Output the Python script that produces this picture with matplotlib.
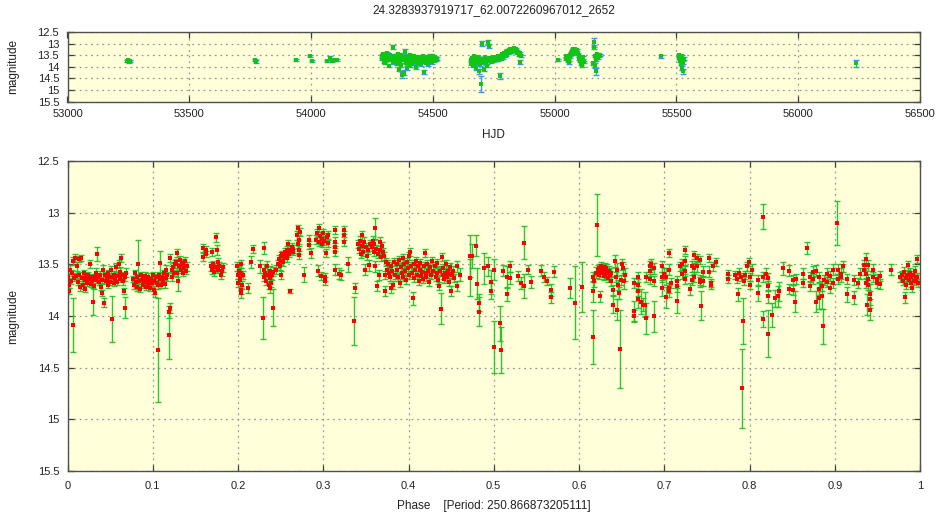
import matplotlib
matplotlib.use("Agg")
import matplotlib.pyplot as plt
from matplotlib.ticker import FuncFormatter

plt.rcParams['font.family'] = ['Liberation Sans', 'DejaVu Sans']

TITLE = "24.3283937919717_62.0072260967012_2652"
PERIOD = "250.866873205111"

# ---- light curve versus time (HJD) ----
hjd = [
    53246, 53248, 53252, 53255, 53770, 53772, 53940, 53997, 54004,
    54066, 54078, 54084, 54095, 54107,
    54290, 54293, 54296, 54298, 54300, 54303, 54305, 54308, 54310, 54313,
    54316, 54318, 54320, 54323, 54326, 54329, 54332, 54335, 54338, 54340,
    54343, 54346, 54349, 54352, 54355, 54358, 54360, 54362, 54365, 54368,
    54370, 54373, 54375, 54377, 54380, 54382, 54385, 54388, 54390, 54393,
    54395, 54398, 54400, 54403, 54406, 54408, 54411, 54414, 54416, 54419,
    54422, 54425, 54428, 54430, 54433, 54436, 54439, 54442, 54445, 54448,
    54450, 54453, 54456, 54459, 54462, 54464, 54467, 54470, 54473, 54476,
    54479, 54482, 54485, 54488, 54491, 54494, 54497, 54500, 54503, 54506,
    54509, 54512, 54515,
    54655, 54658, 54661, 54664, 54667, 54670, 54673, 54676, 54679, 54682,
    54685, 54688, 54691, 54694, 54697, 54700, 54703, 54706, 54709, 54712,
    54715, 54718, 54721, 54724, 54727, 54730, 54733, 54736, 54739, 54742,
    54745, 54748, 54751, 54754, 54757, 54760, 54763, 54766, 54769, 54772,
    54775, 54778, 54781, 54784, 54787, 54790, 54793, 54796, 54799, 54802,
    54805, 54808, 54811, 54814, 54817, 54820, 54823, 54826, 54829, 54832,
    54835, 54838, 54841, 54844, 54847, 54850, 54853, 54856, 54858, 54860,
    55013,
    55045, 55048, 55050, 55053, 55056, 55059, 55062, 55065, 55068, 55071,
    55074, 55077, 55080, 55083, 55086, 55089, 55092, 55095, 55098, 55101,
    55104, 55107, 55110, 55113, 55116, 55119,
    55158, 55160, 55162, 55164, 55166, 55168, 55170, 55173, 55176, 55179,
    55182, 55185,
    55436,
    55510, 55512, 55514, 55516, 55518, 55520, 55522, 55524, 55526, 55528,
    55530,
    56236,
]
hjd_mag = [
    13.75, 13.72, 13.78, 13.74, 13.72, 13.78, 13.70, 13.52, 13.75,
    13.75, 13.62, 13.76, 13.72, 13.70,
    13.55, 13.68, 13.45, 13.78, 13.62, 13.50, 13.85, 13.60, 13.72, 13.40,
    13.66, 13.55, 13.95, 13.62, 13.48, 13.70, 13.58, 13.80, 13.15, 13.65,
    13.52, 13.75, 13.60, 13.88, 13.45, 13.70, 14.10, 13.62, 13.78, 13.50,
    13.92, 13.66, 14.35, 13.58, 14.25, 13.72, 13.35, 13.82, 13.60, 14.05,
    13.70, 13.55, 13.85, 13.65, 13.95, 13.48, 13.75, 13.62, 13.88, 13.70,
    13.55, 13.80, 13.66, 14.00, 13.60, 13.72, 13.85, 13.58, 13.68, 13.78,
    13.62, 13.90, 13.70, 13.55, 14.22, 13.75, 13.62, 13.82, 13.68, 13.58,
    13.90, 13.66, 13.74, 13.52, 13.70, 13.62, 13.80, 13.55, 13.68, 13.75,
    13.60, 13.72, 13.65,
    13.70, 13.85, 13.62, 13.95, 13.75, 13.55, 13.88, 14.05, 13.68, 13.80,
    13.60, 14.20, 13.72, 13.90, 14.73, 13.65, 13.00, 13.80, 14.10, 13.70,
    13.58, 13.85, 13.65, 13.95, 12.95, 13.10, 13.72, 13.62, 13.78, 13.68,
    13.58, 13.75, 13.65, 13.70, 13.60, 13.72, 13.66, 13.55, 13.70, 13.62,
    14.40, 13.68, 13.58, 13.45, 13.60, 13.50, 13.40, 13.55, 13.35, 13.48,
    13.30, 13.42, 13.28, 13.38, 13.25, 13.35, 13.22, 13.32, 13.25, 13.30,
    13.20, 13.28, 13.25, 13.32, 13.40, 13.35, 13.48, 13.42, 13.80, 13.55,
    13.70,
    13.55, 13.68, 13.60, 13.75, 13.62, 13.80, 13.48, 13.58, 13.40, 13.32,
    13.45, 13.25, 13.35, 13.22, 13.30, 13.38, 13.28, 13.45, 13.55, 13.65,
    13.75, 13.85, 13.70, 13.92, 13.60, 13.80,
    13.85, 12.95, 13.15, 13.55, 13.95, 14.20, 13.70, 13.45, 13.62, 13.50,
    13.55, 13.48,
    13.55,
    13.50, 13.62, 13.75, 13.58, 13.85, 13.68, 14.05, 13.55, 13.80, 14.20,
    13.65,
    13.85,
]
hjd_err = [
    0.04, 0.04, 0.04, 0.04, 0.04, 0.05, 0.04, 0.04, 0.04,
    0.05, 0.08, 0.04, 0.04, 0.04,
    0.05, 0.05, 0.04, 0.05, 0.04, 0.05, 0.05, 0.04, 0.05, 0.05,
    0.04, 0.05, 0.08, 0.05, 0.05, 0.04, 0.05, 0.06, 0.08, 0.05,
    0.05, 0.05, 0.04, 0.06, 0.05, 0.05, 0.10, 0.05, 0.05, 0.05,
    0.08, 0.05, 0.12, 0.05, 0.10, 0.05, 0.10, 0.06, 0.05, 0.10,
    0.05, 0.05, 0.06, 0.05, 0.08, 0.05, 0.05, 0.05, 0.06, 0.05,
    0.05, 0.06, 0.05, 0.08, 0.05, 0.05, 0.06, 0.05, 0.05, 0.05,
    0.05, 0.07, 0.05, 0.05, 0.10, 0.05, 0.05, 0.06, 0.05, 0.05,
    0.08, 0.05, 0.05, 0.05, 0.05, 0.05, 0.06, 0.05, 0.05, 0.05,
    0.05, 0.05, 0.05,
    0.05, 0.06, 0.05, 0.07, 0.05, 0.05, 0.06, 0.10, 0.05, 0.06,
    0.05, 0.12, 0.05, 0.07, 0.35, 0.05, 0.12, 0.06, 0.10, 0.05,
    0.05, 0.06, 0.05, 0.08, 0.10, 0.08, 0.05, 0.05, 0.05, 0.05,
    0.05, 0.05, 0.05, 0.05, 0.05, 0.05, 0.05, 0.05, 0.05, 0.05,
    0.15, 0.05, 0.05, 0.05, 0.05, 0.05, 0.05, 0.05, 0.05, 0.05,
    0.05, 0.05, 0.05, 0.05, 0.05, 0.05, 0.05, 0.05, 0.05, 0.05,
    0.05, 0.05, 0.05, 0.05, 0.05, 0.05, 0.05, 0.05, 0.08, 0.05,
    0.05,
    0.05, 0.05, 0.05, 0.05, 0.05, 0.06, 0.05, 0.05, 0.05, 0.05,
    0.05, 0.05, 0.05, 0.05, 0.05, 0.05, 0.05, 0.05, 0.05, 0.05,
    0.05, 0.06, 0.05, 0.07, 0.05, 0.05,
    0.06, 0.20, 0.10, 0.05, 0.10, 0.15, 0.05, 0.05, 0.05, 0.05,
    0.05, 0.05,
    0.06,
    0.05, 0.05, 0.06, 0.05, 0.06, 0.05, 0.10, 0.05, 0.06, 0.10,
    0.05,
    0.15,
]

# ---- phase-folded light curve ----
phase = [
    0.001, 0.002, 0.002, 0.003, 0.004, 0.005, 0.006, 0.007, 0.008, 0.009,
    0.010, 0.011, 0.012, 0.013, 0.014, 0.015, 0.016, 0.017, 0.018, 0.019,
    0.020, 0.021, 0.022, 0.023, 0.024, 0.025, 0.026, 0.027, 0.028, 0.029,
    0.030, 0.031, 0.032, 0.033, 0.034, 0.035, 0.036, 0.037, 0.038, 0.039,
    0.040, 0.041, 0.042, 0.043, 0.044, 0.045, 0.046, 0.047, 0.048, 0.049,
    0.050, 0.051, 0.052, 0.053, 0.054, 0.055, 0.056, 0.057, 0.058, 0.059,
    0.060, 0.061, 0.062, 0.063, 0.064, 0.065, 0.066, 0.067, 0.068, 0.069,
    0.077, 0.078, 0.079, 0.080, 0.081, 0.082, 0.083, 0.084, 0.085, 0.086,
    0.087, 0.088, 0.089, 0.090, 0.091, 0.092, 0.093, 0.094, 0.095, 0.096,
    0.097, 0.098, 0.099, 0.100, 0.101, 0.102, 0.103, 0.104, 0.105, 0.106,
    0.106, 0.107, 0.108, 0.109, 0.110, 0.111, 0.112, 0.113, 0.114, 0.115,
    0.116, 0.117, 0.119, 0.119, 0.120,
    0.120, 0.122, 0.123, 0.124, 0.125, 0.126, 0.127, 0.128, 0.129, 0.130,
    0.131, 0.132, 0.133, 0.134, 0.135, 0.136, 0.137, 0.138, 0.139, 0.140,
    0.159, 0.159, 0.162, 0.163, 0.168, 0.169, 0.170, 0.171, 0.172, 0.173,
    0.174, 0.175, 0.176, 0.177, 0.178, 0.180, 0.181, 0.182,
    0.199, 0.200, 0.200, 0.201, 0.202, 0.202, 0.203, 0.203, 0.204, 0.205,
    0.203, 0.206, 0.212, 0.215, 0.218, 0.226,
    0.229, 0.230, 0.231, 0.231, 0.232, 0.233, 0.234, 0.235, 0.236, 0.237,
    0.238, 0.238, 0.239, 0.240, 0.241, 0.241,
    0.245, 0.247, 0.248, 0.249, 0.250, 0.250, 0.251, 0.252, 0.253, 0.254,
    0.255, 0.256, 0.257, 0.258, 0.259, 0.260, 0.261, 0.262, 0.263, 0.264,
    0.265,
    0.269, 0.270, 0.270, 0.271, 0.272, 0.272, 0.273, 0.277, 0.283, 0.283,
    0.286,
    0.292, 0.293, 0.294, 0.295, 0.295, 0.296, 0.297, 0.298, 0.299, 0.300,
    0.301, 0.302, 0.302, 0.303, 0.304, 0.305, 0.306, 0.314, 0.314, 0.314,
    0.314, 0.314, 0.318, 0.321, 0.324, 0.324, 0.324, 0.329,
    0.336, 0.337, 0.341, 0.342, 0.343, 0.344, 0.345, 0.346, 0.347, 0.348,
    0.349, 0.350, 0.351, 0.353, 0.354, 0.355, 0.357, 0.358, 0.359, 0.360,
    0.361, 0.361, 0.362, 0.363, 0.364, 0.365, 0.366, 0.367, 0.368, 0.369,
    0.370, 0.371,
    0.372, 0.372, 0.374, 0.375, 0.376, 0.377, 0.378, 0.379, 0.380, 0.381,
    0.382, 0.383, 0.384, 0.386, 0.387, 0.388, 0.389, 0.390, 0.391, 0.392,
    0.393, 0.394, 0.395, 0.396, 0.397, 0.398, 0.399, 0.400, 0.401, 0.402,
    0.403, 0.404, 0.405, 0.406, 0.407, 0.408, 0.409, 0.410, 0.411, 0.412,
    0.413, 0.414, 0.415, 0.416, 0.417, 0.418, 0.419, 0.420, 0.421, 0.422,
    0.423, 0.424, 0.425, 0.426, 0.428, 0.429, 0.431, 0.432, 0.433, 0.434,
    0.435, 0.436, 0.437, 0.438, 0.439, 0.440, 0.441, 0.442, 0.443, 0.444,
    0.445, 0.446, 0.447, 0.448, 0.449, 0.450, 0.451, 0.452, 0.453, 0.457,
    0.457, 0.460,
    0.472, 0.472, 0.474, 0.479, 0.480, 0.483, 0.483, 0.489, 0.493, 0.497,
    0.497, 0.500, 0.500, 0.507, 0.508, 0.511, 0.515, 0.515, 0.519, 0.519,
    0.528, 0.532, 0.536, 0.536, 0.540, 0.544, 0.555, 0.559, 0.562, 0.567,
    0.567, 0.571, 0.589, 0.595, 0.603,
    0.616, 0.616, 0.617, 0.618, 0.620, 0.621, 0.622, 0.623, 0.624, 0.625,
    0.625, 0.626, 0.627, 0.628, 0.629, 0.630, 0.630, 0.631, 0.632, 0.633,
    0.634, 0.635, 0.636, 0.637, 0.638, 0.640, 0.640, 0.642, 0.643, 0.644,
    0.645, 0.646, 0.647, 0.648, 0.649, 0.650, 0.652, 0.653, 0.654,
    0.665, 0.665, 0.665, 0.669, 0.669, 0.669, 0.669, 0.673, 0.675, 0.677,
    0.679, 0.679, 0.683, 0.683, 0.683, 0.685, 0.688, 0.688, 0.688, 0.697,
    0.697, 0.697, 0.700, 0.702, 0.702, 0.705, 0.705, 0.705, 0.705, 0.708,
    0.715, 0.715, 0.715, 0.718, 0.721, 0.721, 0.724, 0.724, 0.724, 0.724,
    0.730, 0.733, 0.733, 0.735, 0.735, 0.735, 0.739, 0.739, 0.742, 0.742,
    0.742, 0.743, 0.746, 0.746, 0.752, 0.752, 0.755, 0.755, 0.757, 0.761,
    0.775, 0.775, 0.783, 0.785, 0.787, 0.788, 0.790, 0.791, 0.792, 0.793,
    0.795, 0.797, 0.799, 0.800, 0.801, 0.803, 0.810, 0.810, 0.816, 0.816,
    0.816, 0.819, 0.822, 0.822, 0.822, 0.822, 0.826, 0.830, 0.833, 0.835,
    0.839,
    0.846, 0.846, 0.851, 0.851, 0.853, 0.855, 0.863, 0.863, 0.867, 0.871,
    0.871, 0.875, 0.875, 0.878, 0.878, 0.882, 0.882, 0.882, 0.885, 0.885,
    0.886, 0.887, 0.891, 0.891, 0.894, 0.894, 0.898, 0.898, 0.903, 0.904,
    0.904, 0.907, 0.907, 0.910, 0.914, 0.914, 0.922, 0.922, 0.927, 0.930,
    0.934, 0.934, 0.937, 0.937, 0.937, 0.938, 0.939, 0.939, 0.939, 0.941,
    0.941, 0.941, 0.945, 0.945, 0.949, 0.949, 0.953, 0.953, 0.966, 0.976,
    0.979, 0.980, 0.981, 0.982, 0.983, 0.984, 0.985, 0.986, 0.987, 0.988,
    0.989, 0.990, 0.991, 0.992, 0.993, 0.994, 0.995, 0.996, 0.997, 0.998,
]
phase_mag = [
    13.62, 13.70, 13.76, 13.55, 13.66, 13.58, 13.47, 14.09, 13.63, 13.44,
    13.61, 13.52, 13.67, 13.45, 13.60, 13.72, 13.44, 13.63, 13.70, 13.58,
    13.65, 13.74, 13.62, 13.68, 13.60, 13.64, 13.50, 13.69, 13.62, 13.66,
    13.86, 13.71, 13.62, 13.58, 13.65, 13.40, 13.62, 13.67, 13.60, 13.72,
    13.65, 13.78, 13.55, 13.87, 13.60, 13.66, 13.63, 13.70, 13.58, 13.62,
    13.67, 13.55, 14.03, 13.62, 13.68, 13.60, 13.64, 13.53, 13.67, 13.61,
    13.50, 13.57, 13.64, 13.44, 13.60, 13.66, 13.76, 13.62, 13.92, 13.58,
    13.64, 13.70, 13.58, 13.67, 13.72, 13.62, 13.50, 13.66, 13.74, 13.60,
    13.65, 13.70, 13.63, 13.67, 13.61, 13.72, 13.65, 13.69, 13.62, 13.66,
    13.73, 13.64, 13.68, 13.60, 13.75, 13.66, 13.78, 13.62, 13.68, 14.33,
    13.70, 13.60, 13.49, 13.64, 13.70, 13.62, 13.66, 13.58, 13.69, 13.63,
    13.55, 13.60, 14.18, 13.96, 13.92,
    13.44, 13.62, 13.55, 13.53, 13.58, 13.50, 13.48, 13.39, 13.58, 13.66,
    13.52, 13.46, 13.55, 13.49, 13.58, 13.51, 13.54, 13.47, 13.56, 13.52,
    13.34, 13.43, 13.36, 13.40, 13.52, 13.38, 13.55, 13.50, 13.57, 13.53,
    13.24, 13.36, 13.48, 13.55, 13.52, 13.60, 13.56, 13.53,
    13.52, 13.60, 13.68, 13.56, 13.65, 13.63, 13.50, 13.75, 13.58, 13.70,
    13.78, 13.60, 13.73, 13.48, 13.35, 13.52,
    14.02, 13.55, 13.34, 13.62, 13.58, 13.66, 13.52, 13.60, 13.70, 13.56,
    13.73, 13.63, 13.68, 13.60, 13.92, 13.57,
    13.55, 13.50, 13.45, 13.52, 13.60, 13.42, 13.47, 13.40, 13.48, 13.44,
    13.38, 13.42, 13.36, 13.44, 13.30, 13.40, 13.76, 13.36, 13.33, 13.38,
    13.35,
    13.22, 13.30, 13.15, 13.36, 13.26, 13.41, 13.19, 13.60, 13.26, 13.31,
    13.39,
    13.26, 13.20, 13.56, 13.28, 13.15, 13.23, 13.61, 13.25, 13.30, 13.20,
    13.27, 13.62, 13.66, 13.39, 13.24, 13.29, 13.22, 13.17, 13.28, 13.33,
    13.38, 13.55, 13.59, 13.60, 13.17, 13.22, 13.28, 13.50,
    14.05, 13.73, 13.30, 13.35, 13.27, 13.40, 13.22, 13.32, 13.38, 13.28,
    13.55, 13.33, 13.42, 13.36, 13.51, 13.30, 13.33, 13.27, 13.38, 13.30,
    13.15, 13.52, 13.35, 13.71, 13.40, 13.60, 13.28, 13.36, 13.43, 13.32,
    13.38, 13.42,
    13.60, 13.76, 13.48, 13.55, 13.50, 13.58, 13.62, 13.52, 13.73, 13.56,
    13.70, 13.48, 13.60, 13.55, 13.50, 13.62, 13.46, 13.68, 13.53, 13.58,
    13.44, 13.62, 13.50, 13.56, 13.65, 13.48, 13.54, 13.60, 13.42, 13.38,
    13.52, 13.58, 13.83, 13.50, 13.63, 13.55, 13.47, 13.60, 13.52, 13.66,
    13.55, 13.49, 13.61, 13.57, 13.64, 13.52, 13.39, 13.58, 13.62, 13.50,
    13.56, 13.67, 13.53, 13.60, 13.47, 13.56, 13.52, 13.62, 13.58, 13.49,
    13.65, 13.71, 13.56, 13.93, 13.43, 13.60, 13.54, 13.64, 13.58, 13.50,
    13.62, 13.56, 13.67, 13.59, 13.53, 13.76, 13.60, 13.56, 13.63, 13.71,
    13.52, 13.60,
    13.42, 13.63, 13.42, 13.32, 13.69, 13.87, 13.96, 13.54, 13.52, 13.67,
    13.76, 13.55, 14.30, 14.07, 14.33, 13.56, 13.62, 13.79, 13.52, 13.63,
    13.61, 13.68, 13.29, 13.71, 13.55, 13.67, 13.56, 13.62, 13.66, 13.75,
    13.82, 13.57, 13.73, 13.87, 13.72,
    14.20, 13.76, 13.62, 13.66, 13.58, 13.12, 13.55, 13.60, 13.54, 13.81,
    13.57, 13.52, 13.58, 13.55, 13.61, 13.53, 13.57, 13.60, 13.54, 13.58,
    13.63, 13.56, 13.60, 13.66, 13.58, 13.89, 13.75, 13.47, 13.62, 13.94,
    13.55, 13.70, 13.78, 14.32, 13.65, 13.50, 13.54, 13.66, 13.60,
    13.68, 13.95, 14.00, 13.62, 13.70, 13.76, 13.84, 13.86, 13.89, 13.89,
    13.62, 14.02, 13.52, 13.56, 13.64, 13.50, 13.54, 13.66, 14.00, 13.52,
    13.62, 13.73, 13.59, 13.62, 13.82, 13.39, 13.55, 13.73, 13.76, 13.68,
    13.66, 13.71, 13.85, 13.52, 13.50, 13.59, 13.36, 13.47, 13.56, 13.64,
    13.74, 13.52, 13.65, 13.41, 13.54, 13.62, 13.44, 13.52, 13.46, 13.65,
    13.67, 13.90, 13.57, 13.66, 13.44, 13.57, 13.68, 13.70, 13.52, 13.48,
    13.59, 13.64, 13.60, 13.64, 13.79, 13.58, 13.62, 14.70, 14.05, 13.66,
    13.60, 13.52, 13.48, 13.70, 13.62, 13.55, 13.65, 13.78, 13.04, 13.62,
    14.03, 13.59, 13.63, 13.71, 13.81, 14.17, 13.99, 13.83, 13.81, 13.76,
    13.54,
    13.56, 13.74, 13.65, 13.75, 13.86, 13.64, 13.59, 13.68, 13.34, 13.62,
    13.71, 13.57, 13.64, 13.56, 13.86, 13.62, 13.74, 13.83, 13.71, 13.81,
    14.10, 13.65, 13.59, 13.67, 13.61, 13.73, 13.55, 13.68, 13.10, 13.55,
    13.64, 13.59, 13.62, 13.52, 13.64, 13.79, 13.65, 13.82, 13.68, 13.59,
    13.51, 13.55, 13.45, 13.59, 13.68, 13.89, 13.51, 13.64, 13.70, 13.79,
    13.84, 13.94, 13.55, 13.62, 13.64, 13.68, 13.61, 13.69, 13.55, 13.62,
    13.60, 13.66, 13.57, 13.82, 13.63, 13.70, 13.60, 13.51, 13.65, 13.58,
    13.68, 13.62, 13.73, 13.60, 13.66, 13.56, 13.64, 13.45, 13.62, 13.68,
]
phase_err = [
    0.04, 0.03, 0.03, 0.04, 0.03, 0.03, 0.04, 0.26, 0.03, 0.04,
    0.03, 0.04, 0.03, 0.03, 0.03, 0.04, 0.03, 0.03, 0.04, 0.03,
    0.03, 0.03, 0.04, 0.03, 0.03, 0.04, 0.04, 0.03, 0.03, 0.03,
    0.13, 0.03, 0.03, 0.04, 0.03, 0.07, 0.03, 0.03, 0.04, 0.03,
    0.03, 0.03, 0.04, 0.04, 0.03, 0.03, 0.04, 0.03, 0.03, 0.04,
    0.03, 0.03, 0.22, 0.03, 0.03, 0.04, 0.03, 0.04, 0.03, 0.03,
    0.04, 0.04, 0.03, 0.04, 0.03, 0.04, 0.03, 0.04, 0.10, 0.04,
    0.03, 0.04, 0.03, 0.03, 0.04, 0.03, 0.24, 0.03, 0.03, 0.03,
    0.04, 0.03, 0.03, 0.03, 0.04, 0.03, 0.03, 0.03, 0.04, 0.03,
    0.03, 0.03, 0.04, 0.03, 0.04, 0.03, 0.04, 0.03, 0.03, 0.50,
    0.04, 0.03, 0.12, 0.03, 0.03, 0.04, 0.03, 0.03, 0.04, 0.03,
    0.04, 0.03, 0.24, 0.06, 0.05,
    0.04, 0.04, 0.03, 0.04, 0.03, 0.04, 0.03, 0.04, 0.04, 0.10,
    0.03, 0.04, 0.03, 0.04, 0.03, 0.04, 0.03, 0.04, 0.03, 0.04,
    0.04, 0.04, 0.04, 0.03, 0.04, 0.04, 0.04, 0.03, 0.04, 0.04,
    0.04, 0.05, 0.04, 0.03, 0.04, 0.04, 0.05, 0.04,
    0.04, 0.04, 0.04, 0.04, 0.04, 0.03, 0.04, 0.04, 0.04, 0.04,
    0.05, 0.04, 0.05, 0.06, 0.04, 0.06,
    0.20, 0.05, 0.06, 0.04, 0.04, 0.04, 0.05, 0.04, 0.04, 0.04,
    0.05, 0.04, 0.04, 0.05, 0.18, 0.04,
    0.04, 0.04, 0.04, 0.03, 0.04, 0.04, 0.04, 0.03, 0.04, 0.04,
    0.04, 0.03, 0.04, 0.04, 0.04, 0.03, 0.02, 0.04, 0.04, 0.03,
    0.04,
    0.04, 0.04, 0.03, 0.04, 0.04, 0.04, 0.04, 0.07, 0.04, 0.04,
    0.05,
    0.04, 0.04, 0.05, 0.04, 0.04, 0.04, 0.04, 0.04, 0.03, 0.04,
    0.04, 0.04, 0.04, 0.04, 0.04, 0.04, 0.04, 0.04, 0.04, 0.04,
    0.04, 0.05, 0.05, 0.05, 0.04, 0.04, 0.04, 0.07,
    0.23, 0.05, 0.04, 0.04, 0.04, 0.04, 0.04, 0.04, 0.04, 0.04,
    0.05, 0.04, 0.04, 0.04, 0.05, 0.04, 0.04, 0.04, 0.04, 0.04,
    0.10, 0.05, 0.04, 0.05, 0.04, 0.05, 0.04, 0.04, 0.04, 0.04,
    0.04, 0.04,
    0.04, 0.05, 0.04, 0.04, 0.04, 0.04, 0.04, 0.04, 0.05, 0.04,
    0.04, 0.04, 0.04, 0.04, 0.04, 0.04, 0.04, 0.04, 0.04, 0.04,
    0.04, 0.04, 0.04, 0.04, 0.04, 0.04, 0.04, 0.04, 0.04, 0.04,
    0.04, 0.04, 0.06, 0.04, 0.04, 0.04, 0.04, 0.04, 0.04, 0.04,
    0.04, 0.04, 0.04, 0.04, 0.04, 0.04, 0.04, 0.04, 0.04, 0.04,
    0.04, 0.04, 0.04, 0.04, 0.04, 0.04, 0.04, 0.04, 0.04, 0.04,
    0.04, 0.04, 0.04, 0.15, 0.04, 0.04, 0.04, 0.04, 0.04, 0.04,
    0.04, 0.04, 0.04, 0.04, 0.04, 0.05, 0.04, 0.04, 0.04, 0.05,
    0.05, 0.06,
    0.20, 0.18, 0.12, 0.10, 0.15, 0.08, 0.14, 0.15, 0.09, 0.12,
    0.08, 0.10, 0.25, 0.17, 0.22, 0.05, 0.10, 0.06, 0.05, 0.06,
    0.05, 0.06, 0.16, 0.12, 0.04, 0.06, 0.05, 0.05, 0.04, 0.06,
    0.05, 0.05, 0.10, 0.35, 0.24,
    0.26, 0.10, 0.05, 0.06, 0.05, 0.30, 0.04, 0.04, 0.04, 0.05,
    0.04, 0.04, 0.04, 0.04, 0.04, 0.04, 0.04, 0.04, 0.04, 0.04,
    0.04, 0.04, 0.04, 0.05, 0.04, 0.08, 0.05, 0.06, 0.05, 0.10,
    0.06, 0.05, 0.06, 0.38, 0.05, 0.05, 0.06, 0.08, 0.06,
    0.05, 0.10, 0.06, 0.05, 0.06, 0.05, 0.08, 0.12, 0.06, 0.12,
    0.05, 0.15, 0.05, 0.05, 0.05, 0.05, 0.05, 0.05, 0.15, 0.05,
    0.05, 0.08, 0.05, 0.08, 0.10, 0.04, 0.05, 0.05, 0.06, 0.05,
    0.05, 0.06, 0.12, 0.04, 0.05, 0.05, 0.04, 0.05, 0.05, 0.05,
    0.06, 0.05, 0.05, 0.04, 0.05, 0.05, 0.04, 0.05, 0.04, 0.05,
    0.05, 0.14, 0.05, 0.05, 0.04, 0.05, 0.04, 0.04, 0.04, 0.04,
    0.04, 0.04, 0.04, 0.04, 0.06, 0.04, 0.04, 0.38, 0.22, 0.04,
    0.04, 0.04, 0.04, 0.04, 0.04, 0.05, 0.05, 0.07, 0.12, 0.05,
    0.08, 0.05, 0.05, 0.05, 0.06, 0.23, 0.12, 0.08, 0.10, 0.09,
    0.06,
    0.05, 0.05, 0.05, 0.05, 0.10, 0.05, 0.05, 0.04, 0.06, 0.05,
    0.05, 0.05, 0.05, 0.05, 0.10, 0.05, 0.06, 0.10, 0.05, 0.12,
    0.17, 0.05, 0.05, 0.05, 0.05, 0.05, 0.05, 0.05, 0.21, 0.05,
    0.05, 0.05, 0.05, 0.05, 0.05, 0.07, 0.05, 0.06, 0.05, 0.05,
    0.05, 0.05, 0.06, 0.05, 0.05, 0.10, 0.05, 0.05, 0.05, 0.10,
    0.08, 0.10, 0.05, 0.05, 0.05, 0.05, 0.05, 0.05, 0.05, 0.05,
    0.04, 0.04, 0.04, 0.05, 0.04, 0.04, 0.04, 0.04, 0.04, 0.04,
    0.04, 0.04, 0.04, 0.04, 0.04, 0.04, 0.04, 0.04, 0.04, 0.04,
]

hjd_ticks = [53000, 53500, 54000, 54500, 55000, 55500, 56000, 56500]
phase_ticks = [0, 0.1, 0.2, 0.3, 0.4, 0.5, 0.6, 0.7, 0.8, 0.9, 1]
mag_ticks = [12.5, 13, 13.5, 14, 14.5, 15, 15.5]

W, H = 936, 519
fig = plt.figure(figsize=(W / 100, H / 100), dpi=100, facecolor='white')

L, R = 67.5, 920.0
ax_top = fig.add_axes([L / W, 1 - 101.5 / H, (R - L) / W, (101.5 - 32) / H])
ax_bot = fig.add_axes([L / W, 1 - 471 / H, (R - L) / W, (471 - 161) / H])

fmt = FuncFormatter(lambda v, p: "%g" % v)


def style(ax, xticks, xpad):
    ax.set_facecolor('#ffffd9')
    ax.set_yticks(mag_ticks)
    ax.set_xticks(xticks)
    ax.set_ylim(15.5, 12.5)
    ax.set_xlim(xticks[0], xticks[-1])
    ax.xaxis.set_major_formatter(fmt)
    ax.yaxis.set_major_formatter(fmt)
    ax.grid(True, color='#9a9a9a', linestyle=(0, (1.5, 3)), linewidth=0.9)
    ax.set_axisbelow(True)
    ax.tick_params(axis='both', direction='in', length=4, width=0.9,
                   color='#404040', labelsize=8, top=True, right=True,
                   labelcolor='#222222')
    ax.tick_params(axis='x', pad=xpad)
    ax.tick_params(axis='y', pad=6)
    for s in ax.spines.values():
        s.set_color('#505050')
        s.set_linewidth(1.0)


style(ax_top, hjd_ticks, 5.5)
style(ax_bot, phase_ticks, 7)

# time series: green points over blue error bars
ax_top.errorbar(hjd, hjd_mag, yerr=hjd_err, fmt='none', ecolor='#3a98f0',
                elinewidth=1.0, capsize=2.0, capthick=1.0, zorder=2)
ax_top.plot(hjd, hjd_mag, 's', color='#11c611', markersize=2.2,
            markeredgewidth=0, zorder=3)

# folded curve: red points over green error bars
ax_bot.errorbar(phase, phase_mag, yerr=phase_err, fmt='none',
                ecolor='#1cbf1c', elinewidth=1.0, capsize=2.2, capthick=1.0,
                alpha=0.9, zorder=2)
ax_bot.plot(phase, phase_mag, 's', color='#ff0000', markersize=3.0,
            markeredgewidth=0, zorder=3)

cx = (L + R) / 2 / W
fig.text(cx, 1 - 10 / H, TITLE, ha='center', va='center', fontsize=8.5,
         color='#222222')
fig.text(cx, 1 - 135 / H, 'HJD', ha='center', va='center', fontsize=8.5,
         color='#222222')
fig.text(13 / W, 1 - 66 / H, 'magnitude', rotation=90, ha='center',
         va='center', fontsize=8.5, color='#222222')
fig.text(13 / W, 1 - 316 / H, 'magnitude', rotation=90, ha='center',
         va='center', fontsize=8.5, color='#222222')
fig.text(cx, 1 - 506 / H, 'Phase    [Period: %s]' % PERIOD, ha='center',
         va='center', fontsize=8.5, color='#222222')

fig.savefig('out.png', dpi=100, facecolor='white')
